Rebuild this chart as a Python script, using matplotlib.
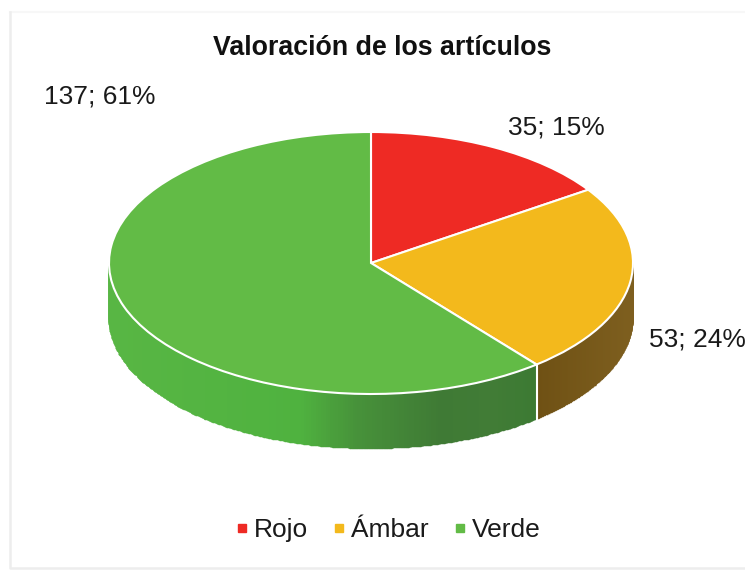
import numpy as np
import matplotlib
matplotlib.use("Agg")
import matplotlib.pyplot as plt
from matplotlib.colors import LinearSegmentedColormap
from matplotlib.lines import Line2D

plt.rcParams['font.family'] = ['Liberation Sans', 'DejaVu Sans']

title = "Valoración de los artículos"
categories = ["Rojo", "Ámbar", "Verde"]
values = [35, 53, 137]
percents = [15, 24, 61]
colors = ["#EE2A24", "#F3B91C", "#62BB46"]

W, H = 745, 573
CX, CY, RX, RY, DEPTH = 371, 263, 262, 131, 55

fig = plt.figure(figsize=(W / 100, H / 100), dpi=100, facecolor="white")

# chart frame (pixel overlay)
bg = fig.add_axes([0, 0, 1, 1])
bg.set_xlim(0, W); bg.set_ylim(H, 0); bg.axis("off")
bg.plot([9.5, W], [12, 12], color="#F7F7F7", lw=1.5)
bg.plot([9.5, 9.5, W], [12, 568, 568], color="#EDEDED", lw=1.8)

ax = fig.add_axes([0, 0, 1, 1])
ax.patch.set_alpha(0)
ax.pie(values, colors=colors, startangle=90, counterclock=False, radius=1,
       wedgeprops=dict(edgecolor="white", linewidth=1.5, zorder=5))
ax.set_aspect("auto")
ax.set_xlim(-CX / RX, (W - CX) / RX)
ax.set_ylim(-(H - CY) / RY, CY / RY)
ax.axis("off")

# extruded wall, derived from the values
d = DEPTH / RY
cum = np.cumsum([0] + values) / sum(values) * 2 * np.pi
green_cmap = LinearSegmentedColormap.from_list(
    "g", [(0, "#58B644"), (0.45, "#4FB23F"), (0.58, "#47923A"), (0.78, "#3F7A35"),
          (0.9, "#417C36"), (1, "#3C7A33")])
brown_cmap = LinearSegmentedColormap.from_list("b", ["#6F5114", "#7E5F1F"])


def wall(a0, a1, cmap):
    th = np.linspace(a0, a1, 240)
    x = np.sin(th)
    top = np.cos(th)
    X = np.vstack([x, x])
    Y = np.vstack([top, top - d])
    C = (x[:-1] - x.min()) / (x.max() - x.min())
    ax.pcolormesh(X, Y, C[None, :], cmap=cmap, shading="flat", zorder=1,
                  antialiased=True, edgecolors="face", linewidth=0.3)


wall(cum[2], 3 * np.pi / 2, green_cmap)   # front-facing part of the largest slice
wall(np.pi / 2, cum[2], brown_cmap)       # front-facing part of the middle slice
ax.plot([np.sin(cum[2])] * 2, [np.cos(cum[2]), np.cos(cum[2]) - d],
        color="white", lw=1.5, zorder=4)

# title and data labels
fig.text(382.5 / W, 1 - 48 / H, title, ha="center", va="center",
         fontsize=19.3, fontweight="bold", color="#111111")
label_pos = [(556, 127), (697, 339), (100, 97)]
for (px, py), v, p in zip(label_pos, values, percents):
    fig.text(px / W, 1 - py / H, f"{v}; {p}%", ha="center", va="center",
             fontsize=19, color="#1A1A1A")

handles = [Line2D([], [], ls="", marker="s", ms=5.5, color=c) for c in colors]
leg = fig.legend(handles, categories, ncols=3, frameon=False, fontsize=19,
                 loc="center", bbox_to_anchor=(385 / W, 1 - 530 / H),
                 handletextpad=0.0, columnspacing=0.68, handlelength=0.95,
                 labelcolor="#1A1A1A")

fig.savefig("out.png", dpi=100)
